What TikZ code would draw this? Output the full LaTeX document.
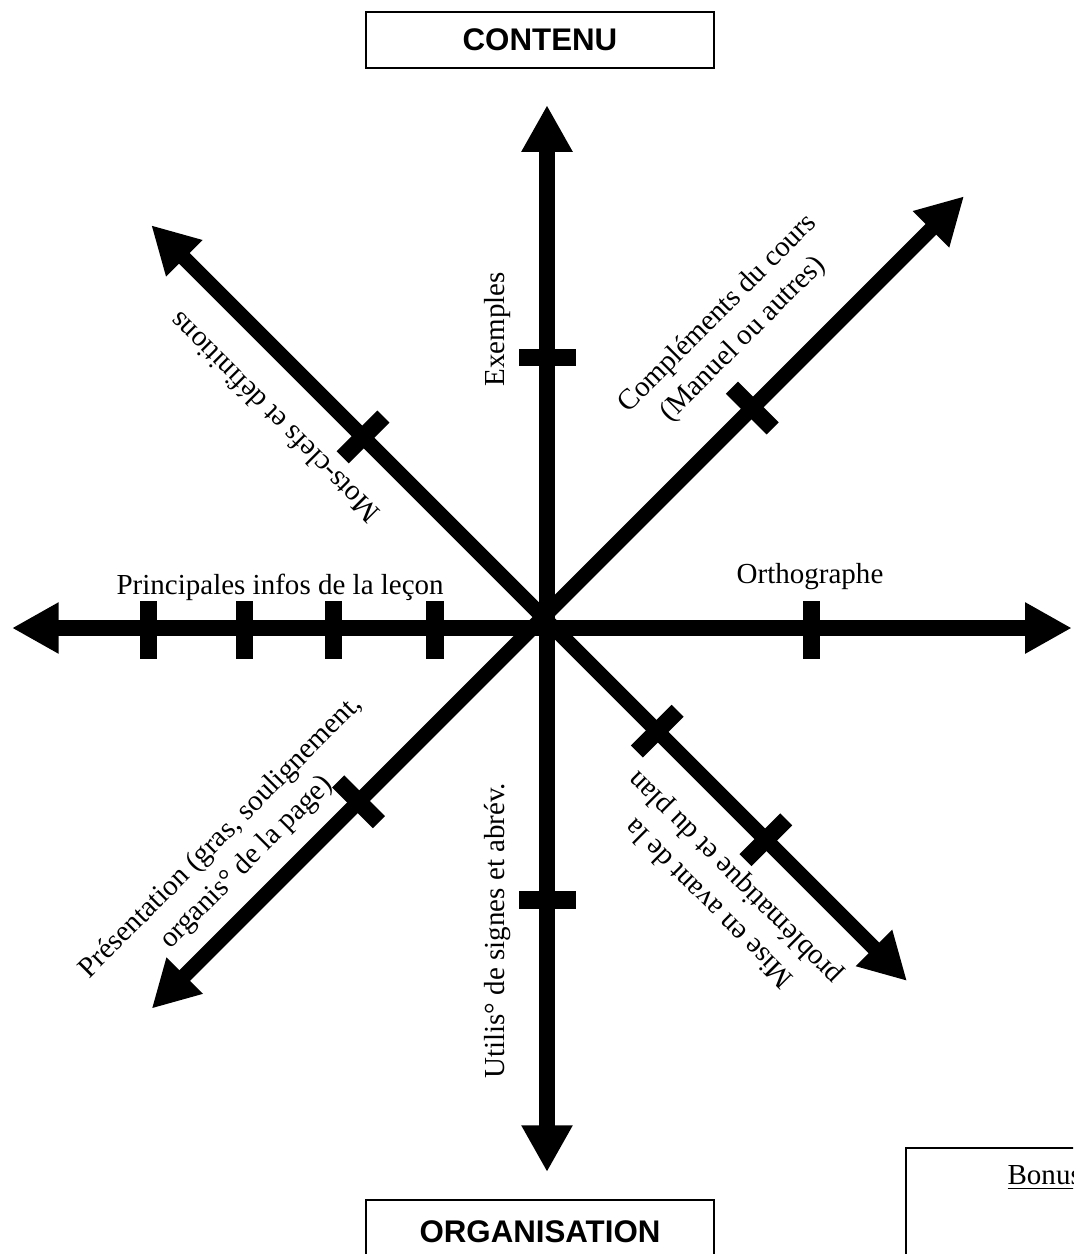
\documentclass[tikz,border=0pt]{standalone}
\usepackage{fontspec}
\setmainfont{Liberation Serif}
\newfontfamily\arialfont{Liberation Sans}
\usetikzlibrary{arrows.meta}

\tikzset{
  axe/.style={line width=6.7pt, {Triangle[length=7.3mm,width=7.5mm]}-{Triangle[length=7.3mm,width=7.5mm]}},
  graduation/.style={line width=7.6pt},
  legende/.style={font=\fontsize{12.9}{16}\selectfont, align=center, inner sep=0pt},
  titre/.style={draw, line width=0.9pt, font=\arialfont\bfseries\fontsize{13.9}{16}\selectfont,
    minimum width=5.45cm, minimum height=0.875cm, inner sep=0pt}
}

\begin{document}
\begin{tikzpicture}
    \useasboundingbox (-8.547,-9.781) rectangle (8.219,9.8125);
    \clip (-8.547,-9.781) rectangle (8.219,9.8125);

    % ---- Cadres des titres ----
    \node[titre] (contenu) at (-0.11,9.19) {CONTENU};
    \node[titre, minimum height=1cm] (organisation) at (-0.11,-9.44) {ORGANISATION};

    % ---- Extremites des axes ----
    \coordinate (D) at (-0.06,0.17); % croisement des diagonales
    \coordinate (gauche) at (-8.36,0);
    \coordinate (droite) at (8.2,0);
    \coordinate (haut) at (0,8.17);
    \coordinate (bas) at (0,-8.5);
    \path (D) ++(45:9.3) coordinate (ne);
    \path (D) ++(225:8.65) coordinate (so);
    \path (D) ++(135:8.66) coordinate (no);
    \path (D) ++(-45:8.04) coordinate (se);

    % ---- Axes ----
    \draw[axe] (gauche) -- (droite);
    \draw[axe] (bas) -- (haut);
    \draw[axe] (so) -- (ne);
    \draw[axe] (se) -- (no);

    % ---- Graduations ----
    \foreach \x in {-6.22,-4.73,-3.33,-1.75,4.13}
        \draw[graduation] (\x,-0.48) -- (\x,0.42);
    \foreach \y in {4.22,-4.25}
        \draw[graduation] (-0.43,\y) -- (0.46,\y);
    \foreach \a/\r in {45/4.62, 135/3.98, 225/4.08, -45/2.52, -45/4.92}
        \draw[graduation] (D) ++(\a:\r) ++(\a+90:0.45) -- ++(\a-90:0.9);

    % ---- Legendes des axes ----
    \node[legende, anchor=base, rotate=90] (exemples) at (-0.67,4.67) {Exemples};
    \node[legende, anchor=base, rotate=90] (utilis) at (-0.67,-4.73) {Utilis° de signes et abrév.};
    \node[legende, anchor=base] (principales) at (-4.17,0.52) {Principales infos de la leçon};
    \node[legende, anchor=base] (orthographe) at (4.11,0.70) {Orthographe};
    \node[legende, rotate=45] (complements) at (2.87,4.71) {Compléments du cours\\(Manuel ou autres)};
    \node[legende, rotate=135] (motscles) at (-4.27,3.28) {Mots-clefs et définitions};
    \node[legende, rotate=45] (presentation) at (-4.89,-3.47) {Présentation (gras, soulignement,\\organis° de la page)};
    \node[legende, rotate=135] (miseenavant) at (2.75,-4.09) {Mise en avant de la\\problématique et du plan};

    % ---- Cadre bonus (coupe par le bord) ----
    \draw[line width=0.9pt] (5.61,-8.125) rectangle (9,-10.5);
    \node[legende, anchor=base west] (bonus) at (7.19,-8.70) {\underline{Bonus}};
\end{tikzpicture}
\end{document}
